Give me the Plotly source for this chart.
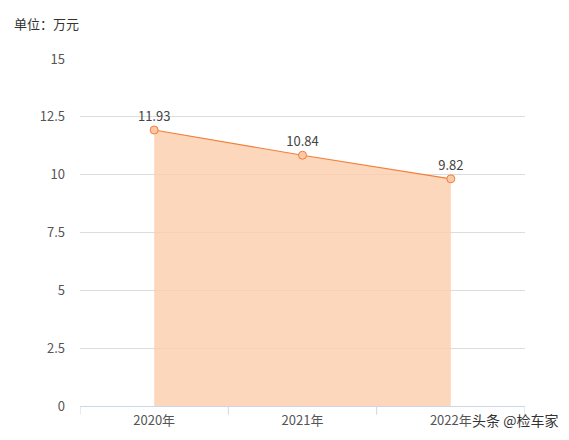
import plotly.graph_objects as go

years = ["2020年", "2021年", "2022年"]
prices = [11.93, 10.84, 9.82]
y_ticks = [0, 2.5, 5, 7.5, 10, 12.5, 15]

fig = go.Figure()
fig.add_trace(go.Scatter(
    x=years, y=prices, mode="lines+markers+text",
    text=[f"{v:.2f}" for v in prices], textposition="top center",
    textfont=dict(size=13, color="#444"),
    line=dict(color="#f07f3a", width=1.2),
    marker=dict(size=8, color="#fcc9a6", line=dict(color="#f07f3a", width=1)),
    fill="tozeroy", fillcolor="rgba(252,205,170,0.8)",
    cliponaxis=False, showlegend=False,
))

fig.update_layout(
    width=569, height=440,
    margin=dict(l=72, r=52, t=51, b=42),
    paper_bgcolor="white", plot_bgcolor="white",
    font=dict(family="Noto Sans CJK SC", size=13, color="#555"),
    xaxis=dict(type="category", range=[-0.5, 2.5], showgrid=False,
               showline=True, linecolor="#ccd6eb", ticks="", ticklabelstandoff=2),
    yaxis=dict(range=[0, 15], tickvals=y_ticks, ticktext=[str(t) for t in y_ticks],
               gridcolor="#dddddd", zeroline=False, showline=False, ticklabelstandoff=14),
    annotations=[
        dict(text="单位：万元", xref="paper", yref="paper", x=-0.153, y=1.135,
             xanchor="left", yanchor="top", showarrow=False,
             font=dict(size=13, color="#333")),
        dict(text="头条 @检车家", xref="paper", yref="paper", x=1.079, y=-0.075,
             xanchor="right", yanchor="bottom", showarrow=False,
             font=dict(size=14, color="#333")),
    ],
)
# category separator ticks
for xv in [-0.5, 0.5, 1.5, 2.5]:
    fig.add_shape(type="line", xref="x", yref="paper", x0=xv, x1=xv, y0=0, y1=-0.025,
                  line=dict(color="#ccd6eb", width=1))

fig.write_html("out.html")
